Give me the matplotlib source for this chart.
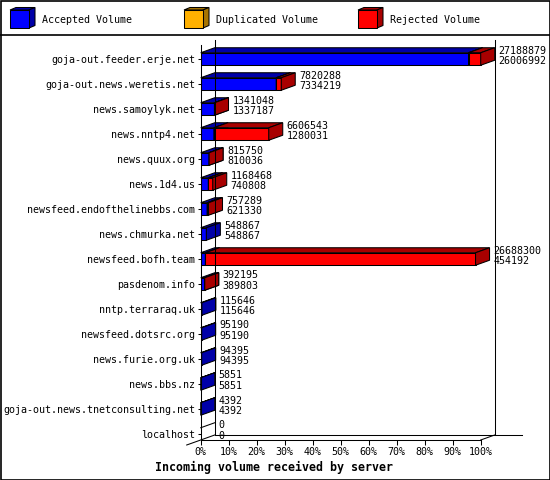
import numpy as np
import matplotlib
matplotlib.use("Agg")
import matplotlib.pyplot as plt
from matplotlib.patches import Rectangle, Polygon

# Data (bytes per server)
servers = [
    "goja-out.feeder.erje.net", "goja-out.news.weretis.net", "news.samoylyk.net",
    "news.nntp4.net", "news.quux.org", "news.1d4.us", "newsfeed.endofthelinebbs.com",
    "news.chmurka.net", "newsfeed.bofh.team", "pasdenom.info", "nntp.terraraq.uk",
    "newsfeed.dotsrc.org", "news.furie.org.uk", "news.bbs.nz",
    "goja-out.news.tnetconsulting.net", "localhost",
]
total = [27188879, 7820288, 1341048, 6606543, 815750, 1168468, 757289, 548867,
         26688300, 392195, 115646, 95190, 94395, 5851, 4392, 0]
accepted = [26006992, 7334219, 1337187, 1280031, 810036, 740808, 621330, 548867,
            454192, 389803, 115646, 95190, 94395, 5851, 4392, 0]
duplicated = [0] * 16

series_names = ["Accepted Volume", "Duplicated Volume", "Rejected Volume"]
front_colors = ["#0000ff", "#ffb000", "#ff0000"]
shade_colors = ["#0000a8", "#a87400", "#a80000"]
xticks = list(range(0, 101, 10))

total = np.array(total, dtype=float)
accepted = np.array(accepted, dtype=float)
duplicated = np.array(duplicated, dtype=float)
rejected = total - accepted - duplicated
scale = 100.0 / total.max()

MONO = "DejaVu Sans Mono"
FS = 7.2
DX, DY, H = 5.0, 0.2, 0.25   # depth in data units, half bar height
LW = 0.75

fig = plt.figure(figsize=(5.5, 4.8), dpi=100)

# pixel axes for frame, legend and title
pax = fig.add_axes([0, 0, 1, 1])
pax.set_xlim(0, 550)
pax.set_ylim(480, 0)
pax.axis("off")
pax.add_patch(Rectangle((0.5, 0.5), 549, 479, fill=False, ec="black", lw=1.2))
pax.plot([0, 550], [35, 35], color="black", lw=1.2)
for i, (name, fc, sc) in enumerate(zip(series_names, front_colors, shade_colors)):
    x0 = 10 + 174 * i
    pax.add_patch(Polygon([(x0, 10), (x0 + 19, 10), (x0 + 25, 7.5), (x0 + 6, 7.5)],
                          fc=sc, ec="black", lw=LW))
    pax.add_patch(Polygon([(x0 + 19, 10), (x0 + 19, 28), (x0 + 25, 25.5), (x0 + 25, 7.5)],
                          fc=sc, ec="black", lw=LW))
    pax.add_patch(Rectangle((x0, 10), 19, 18, fc=fc, ec="black", lw=LW))
    pax.text(x0 + 32, 20, name, family=MONO, fontsize=FS, va="center", ha="left")
pax.text(274, 467, "Incoming volume received by server", family=MONO,
         fontsize=8.4, weight="bold", ha="center", va="center")

# main chart axes
ax = fig.add_axes([200.7 / 550, 40 / 480, 280 / 550, 395 / 480])
ymin, ymax = -0.56, 15.24
ax.set_xlim(0, 100)
ax.set_ylim(ymax, ymin)
ax.patch.set_alpha(0)
for s in ["top", "right"]:
    ax.spines[s].set_visible(False)
for s in ["left", "bottom"]:
    ax.spines[s].set_linewidth(LW)


def box(x0, x1, r, fc, sc):
    top = Polygon([(x0, r - H), (x1, r - H), (x1 + DX, r - H - DY), (x0 + DX, r - H - DY)],
                  fc=sc, ec="black", lw=LW, clip_on=False)
    side = Polygon([(x1, r - H), (x1, r + H), (x1 + DX, r + H - DY), (x1 + DX, r - H - DY)],
                   fc=sc, ec="black", lw=LW, clip_on=False)
    front = Rectangle((x0, r - H), x1 - x0, 2 * H, fc=fc, ec="black", lw=LW, clip_on=False)
    for p in (top, front, side):
        ax.add_patch(p)


# back walls
ax.plot([DX, DX], [ymin - DY, ymax - DY], color="black", lw=LW, clip_on=False)
ax.plot([100 + DX, 100 + DX], [ymin - DY, ymax - DY], color="black", lw=LW, clip_on=False)
ax.plot([DX, 114.75], [ymax - DY, ymax - DY], color="black", lw=LW, clip_on=False)
ax.plot([-DX, DX], [ymax + DY, ymax - DY], color="black", lw=LW, clip_on=False)
ax.plot([100, 100 + DX], [ymax, ymax - DY], color="black", lw=LW, clip_on=False)

for r in range(len(servers)):
    segs = [accepted[r], duplicated[r], rejected[r]]
    left = 0.0
    drawn = False
    for v, fc, sc in zip(segs, front_colors, shade_colors):
        if v <= 0:
            continue
        w = v * scale
        box(left, left + w, r, fc, sc)
        left += w
        drawn = True
    if not drawn:
        ax.plot([0, DX], [r - H, r - H - DY], color="black", lw=LW, clip_on=False)
    xt = total[r] * scale + DX + 1.4
    ax.text(xt, r - 0.34, f"{int(total[r])}", family=MONO, fontsize=FS,
            ha="left", va="center", clip_on=False)
    ax.text(xt, r + 0.08, f"{int(accepted[r])}", family=MONO, fontsize=FS,
            ha="left", va="center", clip_on=False)

ax.set_yticks(range(len(servers)))
ax.set_yticklabels(servers, family=MONO, fontsize=FS)
ax.set_xticks(xticks)
ax.set_xticklabels([f"{v}%" for v in xticks], family=MONO, fontsize=FS)
ax.tick_params(axis="y", length=2.5, width=LW, pad=1.5)
ax.tick_params(axis="x", length=3.6, width=LW, pad=1.5)

fig.savefig("out.png", dpi=100)
